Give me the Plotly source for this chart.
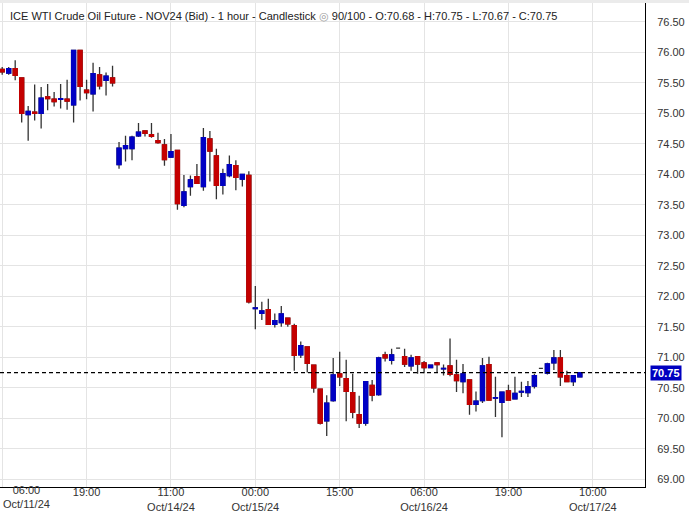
import plotly.graph_objects as go

# ---------------- data ----------------
bar_index = list(range(90))
opens = [75.72, 75.66, 75.73, 75.58, 74.98, 75.02, 75.00, 75.27, 75.23, 75.23,
         75.23, 75.14, 76.03, 75.38, 75.32, 75.63, 75.54, 75.58, 74.16, 74.42,
         74.42, 74.63, 74.71, 74.65, 74.55, 74.48, 74.28, 74.39, 73.49, 73.80,
         73.96, 73.80, 74.58, 74.30, 73.82, 73.98, 74.14, 73.92, 73.98, 71.80,
         71.72, 71.78, 71.54, 71.57, 71.64, 71.52, 71.04, 71.17, 70.87, 70.48,
         69.96, 70.29, 70.73, 70.65, 70.42, 70.06, 69.92, 70.54, 70.39, 71.04,
         70.95, 71.15, 71.01, 70.86, 71.01, 70.91, 70.83, 70.91, 70.81, 70.86,
         70.71, 70.60, 70.63, 70.23, 70.29, 70.88, 70.33, 70.26, 70.45, 70.32,
         70.43, 70.42, 70.53, 70.82, 70.74, 70.91, 70.99, 70.70, 70.60, 70.68]
highs = [75.76, 75.76, 75.87, 75.58, 75.12, 75.47, 75.43, 75.48, 75.35, 75.48,
         75.55, 76.03, 76.03, 75.55, 75.83, 75.76, 75.67, 75.78, 74.53, 74.63,
         74.63, 74.84, 74.71, 74.84, 74.68, 74.58, 74.66, 74.39, 73.99, 73.98,
         74.17, 74.76, 74.71, 74.42, 74.09, 74.31, 74.23, 74.00, 74.05, 72.17,
         71.91, 71.96, 71.72, 71.84, 71.64, 71.55, 71.26, 71.17, 70.87, 70.48,
         70.38, 70.99, 71.09, 70.96, 70.73, 70.37, 70.60, 70.63, 71.01, 71.09,
         71.14, 71.15, 71.14, 71.04, 71.01, 70.94, 70.87, 70.91, 70.88, 71.31,
         70.96, 70.89, 70.63, 70.44, 70.99, 71.01, 70.68, 70.44, 70.55, 70.68,
         70.60, 70.61, 70.73, 70.82, 70.91, 71.12, 71.12, 70.78, 70.70, 70.75]
lows = [75.63, 75.63, 75.54, 74.85, 74.55, 74.88, 74.75, 75.05, 75.11, 75.08,
        75.06, 74.85, 75.21, 75.23, 75.03, 75.39, 75.29, 75.44, 74.09, 74.21,
        74.23, 74.61, 74.62, 74.60, 74.50, 74.14, 74.28, 73.42, 73.46, 73.65,
        73.85, 73.73, 73.88, 73.59, 73.67, 73.95, 73.74, 73.80, 71.88, 71.46,
        71.61, 71.54, 71.49, 71.50, 71.50, 70.78, 70.99, 70.75, 70.42, 69.90,
        69.71, 70.27, 70.53, 69.95, 70.00, 69.84, 69.88, 70.28, 70.37, 70.93,
        70.88, 71.15, 70.84, 70.78, 70.73, 70.74, 70.82, 70.75, 70.70, 70.69,
        70.43, 70.41, 70.06, 70.11, 70.25, 70.29, 70.02, 69.69, 70.29, 70.32,
        70.35, 70.35, 70.49, 70.82, 70.72, 70.79, 70.53, 70.60, 70.53, 70.67]
closes = [75.68, 75.73, 75.62, 75.00, 75.03, 75.00, 75.25, 75.24, 75.19, 75.24,
          75.20, 76.03, 75.44, 75.34, 75.65, 75.45, 75.61, 75.50, 74.43, 74.47,
          74.61, 74.69, 74.67, 74.62, 74.52, 74.24, 74.37, 73.52, 73.71, 73.91,
          73.85, 74.60, 74.38, 73.82, 74.01, 74.16, 73.95, 74.00, 71.91, 71.81,
          71.76, 71.54, 71.60, 71.71, 71.55, 71.03, 71.19, 70.90, 70.50, 69.92,
          70.25, 70.71, 70.68, 70.44, 70.10, 69.92, 70.60, 70.38, 70.99, 70.99,
          71.04, 71.15, 70.89, 70.99, 70.89, 70.83, 70.87, 70.88, 70.82, 70.72,
          70.62, 70.73, 70.23, 70.28, 70.86, 70.30, 70.34, 70.43, 70.30, 70.41,
          70.44, 70.52, 70.70, 70.82, 70.89, 70.99, 70.68, 70.60, 70.70, 70.75]

tick_index = [0, 13, 26, 39, 52, 65, 78, 91]
tick_labels = ["06:00<br>Oct/11/24", "19:00", "11:00<br>Oct/14/24", "00:00<br>Oct/15/24",
               "15:00", "06:00<br>Oct/16/24", "19:00", "10:00<br>Oct/17/24"]

instrument = "ICE WTI Crude Oil Future - NOV24 (Bid) - 1 hour - Candlestick"
visible_bars = 90
total_slots = 100

# ---------------- style ----------------
UP = "#0000c4"
DOWN = "#c40000"
WICK = "#333333"
GRID = "#e4e4e4"
FONT = "Liberation Sans, Arial, sans-serif"
LW = 1.3

fig = go.Figure()

# wicks (full OHLC, dark)
fig.add_trace(go.Candlestick(
    x=bar_index, open=opens, high=highs, low=lows, close=closes,
    increasing=dict(line=dict(color=WICK, width=LW), fillcolor=WICK),
    decreasing=dict(line=dict(color=WICK, width=LW), fillcolor=WICK),
    whiskerwidth=0, showlegend=False, hoverinfo="skip"))

# coloured bodies (skip flat bars, which stay dark)
bx, bo, bh, bl, bc = [], [], [], [], []
for i, o, h, l, c in zip(bar_index, opens, highs, lows, closes):
    if o == h == l == c:
        continue
    bx.append(i); bo.append(o); bc.append(c)
    bh.append(max(o, c)); bl.append(min(o, c))
fig.add_trace(go.Candlestick(
    x=bx, open=bo, high=bh, low=bl, close=bc,
    increasing=dict(line=dict(color=UP, width=LW), fillcolor=UP),
    decreasing=dict(line=dict(color=DOWN, width=LW), fillcolor=DOWN),
    whiskerwidth=0, showlegend=False, hoverinfo="skip"))

last_o, last_h, last_l, last_c = opens[-1], highs[-1], lows[-1], closes[-1]

title_text = (f"{instrument} <span style='color:#9a9a9a'>◎</span> "
              f"{visible_bars}/{total_slots} - O:{last_o:.2f} - H:{last_h:.2f} - "
              f"L:{last_l:.2f} - C:{last_c:.2f}")

fig.update_layout(
    width=689, height=511,
    margin=dict(l=0, r=44, t=0, b=24, autoexpand=False),
    paper_bgcolor="white", plot_bgcolor="white",
    boxgap=0.38, boxgroupgap=0,
    font=dict(family=FONT, size=11, color="#333333"),
    showlegend=False,
    xaxis=dict(
        range=[-0.34, 99.04], tickmode="array", tickvals=tick_index,
        ticktext=[""] + tick_labels[1:],
        showgrid=True, gridcolor=GRID, gridwidth=1, zeroline=False,
        showline=True, linecolor="black", linewidth=1, ticks="",
        ticklabelstandoff=-5,
        rangeslider=dict(visible=False),
        tickfont=dict(family=FONT, size=11, color="#333333")),
    yaxis=dict(
        side="right", range=[68.874, 76.857], tick0=69, dtick=0.5,
        tickformat=".2f", showgrid=True, gridcolor=GRID, gridwidth=1,
        zeroline=False, showline=True, linecolor="black", linewidth=1,
        ticks="", ticklabelstandoff=9,
        tickfont=dict(family=FONT, size=11, color="#333333")),
)

# dashed last-price line
fig.add_shape(type="line", xref="paper", x0=0, x1=1, yref="y", y0=last_c, y1=last_c,
              line=dict(color="black", width=1.3, dash="4px,3px"))

# header strip
fig.add_shape(type="rect", xref="paper", x0=0, x1=689 / 645, yref="paper",
              y0=1 - 3 / 487, y1=1, fillcolor="#ebebeb", line=dict(width=0))

annotations = [
    dict(xref="paper", yref="paper", x=0, y=1, xanchor="left", yanchor="top",
         xshift=8, yshift=-8, text=title_text, showarrow=False,
         font=dict(family=FONT, size=11, color="#222222")),
    dict(xref="paper", yref="y", x=1, y=last_c, xanchor="left", yanchor="middle",
         xshift=5, text=f"<b>{last_c:.2f}</b>", showarrow=False, bgcolor="#0000c0",
         borderpad=1, font=dict(family=FONT, size=11, color="white")),
    dict(xref="paper", yref="paper", x=0, y=0, xanchor="left", yanchor="top",
         xshift=1, yshift=5, text=tick_labels[0], showarrow=False, align="center",
         font=dict(family=FONT, size=11, color="#333333")),
]
fig.update_layout(annotations=annotations)

fig.write_html("out.html", config={"displayModeBar": False},
               post_script="document.body.style.margin='0';")
